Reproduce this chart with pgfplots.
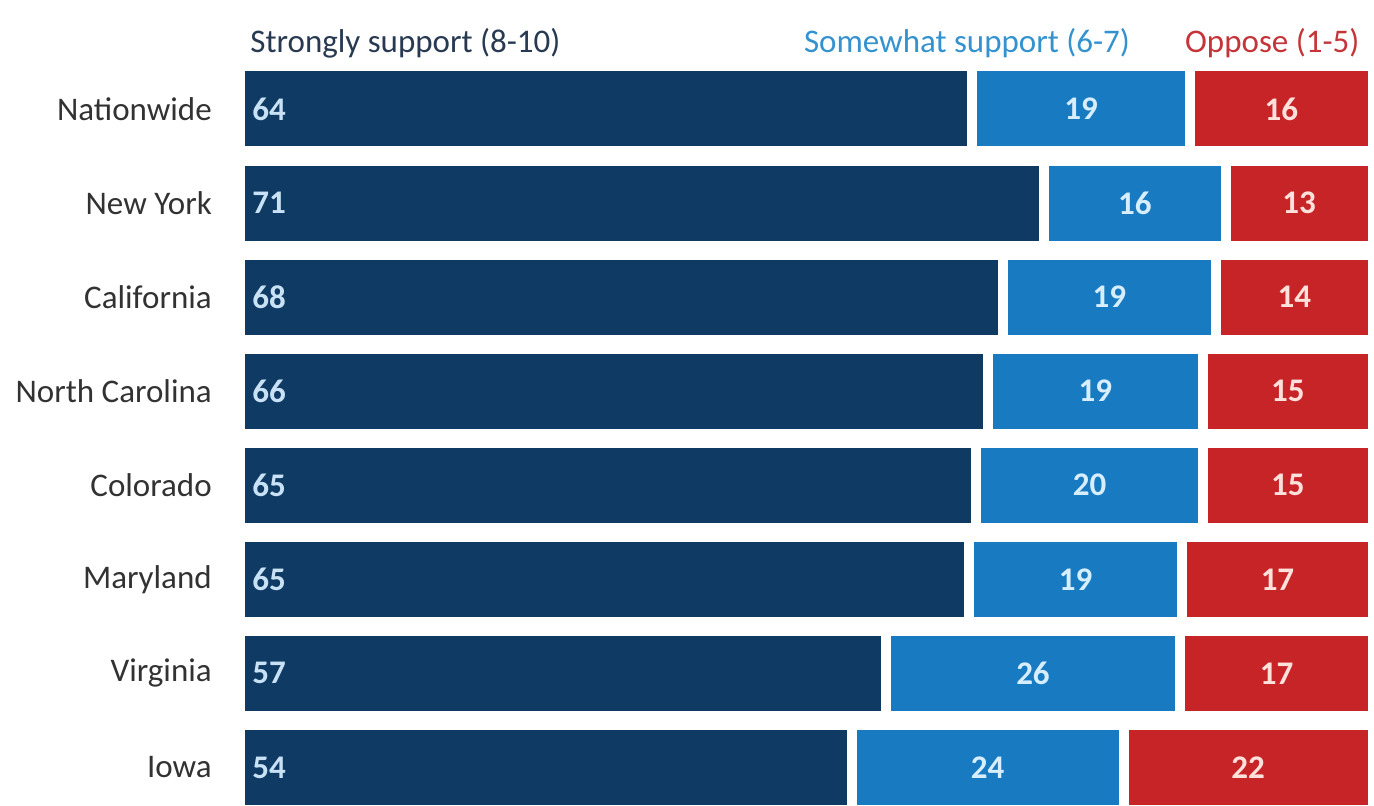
\documentclass[border=0pt]{standalone}
\usepackage{pgfplots}
\pgfplotsset{compat=1.18}
\usepackage{pgfplotstable}
\usepackage{fontspec}
\setmainfont{Carlito}
\definecolor{navy}{RGB}{14,58,99}
\definecolor{midblue}{RGB}{24,122,192}
\definecolor{oppred}{RGB}{199,36,40}
\definecolor{lbltxt}{RGB}{50,50,50}
\definecolor{navytxt}{RGB}{40,58,82}
\definecolor{bluetxt}{RGB}{52,146,206}
\definecolor{redtxt}{RGB}{196,52,56}
\pgfplotstableread{
idx name s w o
0 Nationwide 64 19 16
1 {New York} 71 16 13
2 California 68 19 14
3 {North Carolina} 66 19 15
4 Colorado 65 20 15
5 Maryland 65 19 17
6 Virginia 57 26 17
7 Iowa 54 24 22
}\datatable
\newcommand{\lblfont}{\fontsize{16.5}{18}\selectfont}
\begin{document}
\begin{tikzpicture}
\begin{axis}[
  scale only axis, width=687pt, height=403pt,
  xmin=-21.18, xmax=100.09,
  ymin=-1.158, ymax=7.407, y dir=reverse,
  axis line style={draw=none},
  xtick=\empty,
  ytick={0,...,7},
  yticklabels from table={\datatable}{name},
  major tick length=0pt,
  yticklabel style={anchor=east, inner sep=0pt, xshift=106pt, font=\lblfont, text=lbltxt},
  /pgf/number format/assume math mode=true,
]
\addplot[xbar, bar shift=0pt, bar width=42.5pt, fill=oppred, draw=white, line width=5pt]
  table[x expr=100, y=idx]{\datatable};
\addplot[xbar, bar shift=0pt, bar width=42.5pt, fill=midblue, draw=white, line width=5pt]
  table[x expr={100*(\thisrow{s}+\thisrow{w})/(\thisrow{s}+\thisrow{w}+\thisrow{o})}, y=idx]{\datatable};
\addplot[xbar, bar shift=0pt, bar width=42.5pt, fill=navy, draw=white, line width=5pt]
  table[x expr={100*\thisrow{s}/(\thisrow{s}+\thisrow{w}+\thisrow{o})}, y=idx]{\datatable};
% value labels
\addplot[draw=none, mark=none, nodes near coords, point meta=explicit,
  every node near coord/.append style={anchor=west, inner sep=0pt, xshift=6pt, font=\lblfont\bfseries, text={rgb,255:red,200;green,225;blue,245}}]
  table[x expr=0, y=idx, meta=s]{\datatable};
\addplot[draw=none, mark=none, nodes near coords, point meta=explicit,
  every node near coord/.append style={anchor=center, inner sep=0pt, font=\lblfont\bfseries, text={rgb,255:red,215;green,238;blue,255}}]
  table[x expr={100*(\thisrow{s}+0.5*\thisrow{w})/(\thisrow{s}+\thisrow{w}+\thisrow{o})}, y=idx, meta=w]{\datatable};
\addplot[draw=none, mark=none, nodes near coords, point meta=explicit,
  every node near coord/.append style={anchor=center, inner sep=0pt, font=\lblfont\bfseries, text={rgb,255:red,255;green,225;blue,220}}]
  table[x expr={100*(\thisrow{s}+\thisrow{w}+0.5*\thisrow{o})/(\thisrow{s}+\thisrow{w}+\thisrow{o})}, y=idx, meta=o]{\datatable};
% legend texts
\node[anchor=west, inner sep=0pt, text=navytxt, font=\lblfont] at (axis cs:0.88,-0.70) {Strongly support (8-10)};
\node[anchor=east, inner sep=0pt, text=bluetxt, font=\lblfont] at (axis cs:78.6,-0.70) {Somewhat support (6-7)};
\node[anchor=east, inner sep=0pt, text=redtxt, font=\lblfont] at (axis cs:98.85,-0.70) {Oppose (1-5)};
\end{axis}
\end{tikzpicture}
\end{document}
